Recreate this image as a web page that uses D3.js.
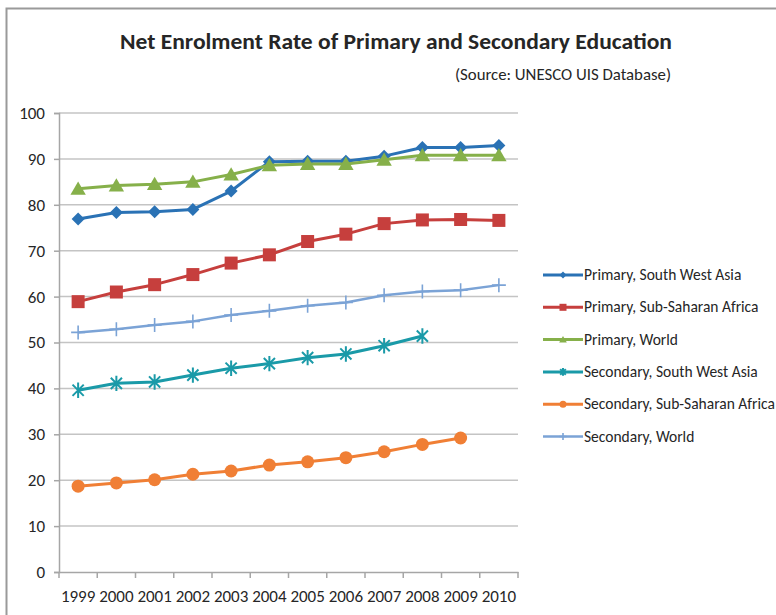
<!DOCTYPE html>
<html>
<head>
<meta charset="utf-8">
<script src="https://cdn.jsdelivr.net/npm/d3@7/dist/d3.min.js"></script>
<style>
  html, body { margin: 0; padding: 0; background: #fff; }
  svg { display: block; }
  text { font-family: Carlito, "Open Sans", sans-serif; fill: #262626; }
</style>
</head>
<body>
<svg id="chart" width="776" height="615"></svg>
<script>
// Net enrolment rates (%) by year
const years = ["1999","2000","2001","2002","2003","2004","2005","2006","2007","2008","2009","2010"];
const primarySWAsia   = [76.9, 78.3, 78.5, 79.0, 83.0, 89.4, 89.5, 89.5, 90.6, 92.5, 92.5, 92.9];
const primarySSAfrica = [58.9, 61.0, 62.6, 64.8, 67.3, 69.1, 72.0, 73.6, 75.9, 76.7, 76.8, 76.6];
const primaryWorld    = [83.5, 84.2, 84.5, 85.0, 86.6, 88.6, 88.9, 88.9, 89.8, 90.8, 90.8, 90.8];
const secondarySWAsia   = [39.6, 41.1, 41.4, 42.9, 44.4, 45.4, 46.7, 47.5, 49.3, 51.4, null, null];
const secondarySSAfrica = [18.7, 19.4, 20.1, 21.3, 22.0, 23.3, 24.0, 24.9, 26.2, 27.8, 29.2, null];
const secondaryWorld    = [52.2, 52.9, 53.8, 54.6, 56.0, 56.9, 58.0, 58.7, 60.3, 61.1, 61.4, 62.5];
const yTicks = [0, 10, 20, 30, 40, 50, 60, 70, 80, 90, 100];

const seriesNames = [
  "Primary, South West Asia",
  "Primary, Sub-Saharan Africa",
  "Primary, World",
  "Secondary, South West Asia",
  "Secondary, Sub-Saharan Africa",
  "Secondary, World"
];
const seriesValues = [primarySWAsia, primarySSAfrica, primaryWorld, secondarySWAsia, secondarySSAfrica, secondaryWorld];
const seriesColors = ["#2a72b5", "#c63f3d", "#86b04a", "#1a9aa8", "#f07f35", "#7ba3d6"];
const seriesMarkers = ["diamond", "square", "triangle", "star", "circle", "plus"];
const seriesWidths = [3, 3, 3, 3, 3, 2.5];

const svg = d3.select("#chart");
const fontStack = 'Carlito, "Open Sans", sans-serif';

// chart frame
svg.append("rect")
  .attr("x", 6.5).attr("y", 8.5).attr("width", 800).attr("height", 640)
  .attr("fill", "#fff").attr("stroke", "#9a9a9a").attr("stroke-width", 2);

// titles
svg.append("text")
  .attr("x", 396).attr("y", 49)
  .attr("text-anchor", "middle")
  .attr("font-size", 22).attr("font-weight", "bold")
  .attr("textLength", 552).attr("lengthAdjust", "spacingAndGlyphs")
  .text("Net Enrolment Rate of Primary and Secondary Education");

svg.append("text")
  .attr("x", 671).attr("y", 80)
  .attr("text-anchor", "end")
  .attr("font-size", 16)
  .attr("textLength", 216).attr("lengthAdjust", "spacingAndGlyphs")
  .text("(Source: UNESCO UIS Database)");

// scales
const plot = { left: 59, right: 518, top: 113, bottom: 572 };
const x = d3.scaleBand().domain(years).range([plot.left, plot.right]).padding(0);
const y = d3.scaleLinear().domain([0, 100]).range([plot.bottom, plot.top]);
const cx = d => x(d) + x.bandwidth() / 2;

// gridlines
svg.append("g").selectAll("line").data(yTicks.filter(t => t > 0)).join("line")
  .attr("x1", plot.left).attr("x2", plot.right)
  .attr("y1", d => y(d)).attr("y2", d => y(d))
  .attr("stroke", "#c4c4c4").attr("stroke-width", 1.5);

// y axis
const yAxis = svg.append("g")
  .attr("transform", `translate(${plot.left},0)`)
  .call(d3.axisLeft(y).tickValues(yTicks).tickSize(5).tickPadding(9).tickFormat(d3.format("d")));
yAxis.select(".domain").attr("stroke", "#a6a6a6").attr("stroke-width", 1.5);
yAxis.selectAll(".tick line").attr("stroke", "#a6a6a6").attr("stroke-width", 1.5);
yAxis.selectAll(".tick text").attr("font-size", 17).attr("fill", "#262626")
  .style("font-family", fontStack);

// x axis: labels centred in each category, tick marks on category boundaries
const xAxis = svg.append("g")
  .attr("transform", `translate(0,${plot.bottom})`)
  .call(d3.axisBottom(x).tickSize(0).tickPadding(18));
xAxis.select(".domain").attr("stroke", "#a6a6a6").attr("stroke-width", 1.5);
xAxis.selectAll(".tick text").attr("font-size", 17).attr("fill", "#262626")
  .style("font-family", fontStack);
const bounds = years.map(d => x(d)).concat([plot.right]);
xAxis.append("g").selectAll("line").data(bounds).join("line")
  .attr("x1", d => d).attr("x2", d => d)
  .attr("y1", 0).attr("y2", 6)
  .attr("stroke", "#a6a6a6").attr("stroke-width", 1.5);

// markers
function drawMarker(g, type, color, s) {
  if (type === "diamond") {
    g.append("path").attr("d", `M0,${-s}L${s},0L0,${s}L${-s},0Z`).attr("fill", color);
  } else if (type === "square") {
    g.append("rect").attr("x", -s).attr("y", -s).attr("width", 2 * s).attr("height", 2 * s).attr("fill", color);
  } else if (type === "triangle") {
    g.append("path").attr("d", `M0,${-s * 1.05}L${s * 1.1},${s * 0.85}L${-s * 1.1},${s * 0.85}Z`).attr("fill", color);
  } else if (type === "circle") {
    g.append("circle").attr("r", s).attr("fill", color);
  } else if (type === "star") {
    const a = s * 0.8;
    g.append("path")
      .attr("d", `M${-a},${-a}L${a},${a}M${-a},${a}L${a},${-a}M0,${-s * 1.1}L0,${s * 1.1}`)
      .attr("stroke", color).attr("stroke-width", 2).attr("fill", "none");
  } else if (type === "plus") {
    g.append("path")
      .attr("d", `M0,${-s}L0,${s}M${-s},0L${s},0`)
      .attr("stroke", color).attr("stroke-width", 1.6).attr("fill", "none");
  }
}

const markerSize = { diamond: 6.5, square: 6.5, triangle: 7, circle: 6.5, star: 7, plus: 7 };

const line = d3.line()
  .defined(d => d.v !== null)
  .x(d => cx(d.year))
  .y(d => y(d.v));

seriesValues.forEach((vals, i) => {
  const pts = years.map((yr, j) => ({ year: yr, v: vals[j] }));
  const g = svg.append("g");
  g.append("path").datum(pts)
    .attr("d", line)
    .attr("fill", "none")
    .attr("stroke", seriesColors[i])
    .attr("stroke-width", seriesWidths[i])
    .attr("stroke-linejoin", "round");
  g.selectAll("g.pt").data(pts.filter(p => p.v !== null)).join("g")
    .attr("class", "pt")
    .attr("transform", p => `translate(${cx(p.year)},${y(p.v)})`)
    .each(function () { drawMarker(d3.select(this), seriesMarkers[i], seriesColors[i], markerSize[seriesMarkers[i]]); });
});

// legend
const legend = svg.append("g").attr("transform", "translate(543,275)");
seriesNames.forEach((name, i) => {
  const row = legend.append("g").attr("transform", `translate(0,${i * 32.3})`);
  row.append("line").attr("x1", 0).attr("x2", 40).attr("y1", 0).attr("y2", 0)
    .attr("stroke", seriesColors[i]).attr("stroke-width", seriesWidths[i]);
  const m = row.append("g").attr("transform", "translate(20,0)");
  drawMarker(m, seriesMarkers[i], seriesColors[i], 3.5);
  row.append("text").attr("x", 41).attr("y", 5)
    .attr("font-size", 15.5)
    .text(name);
});
</script>
</body>
</html>
